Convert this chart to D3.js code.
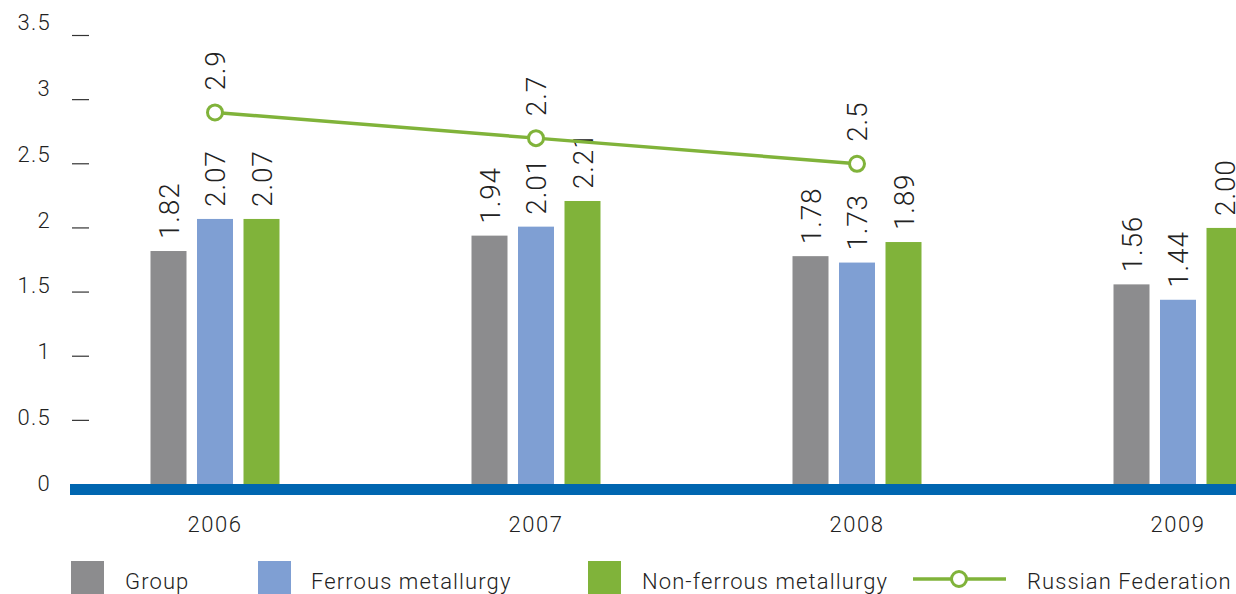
<!DOCTYPE html>
<html>
<head>
<meta charset="utf-8">
<script src="https://cdn.jsdelivr.net/npm/d3@7"></script>
<style>
  html, body { margin: 0; padding: 0; background: #fff; }
  svg { display: block; }
  text { font-family: Roboto, "Liberation Sans", sans-serif; font-weight: 300; fill: #222; }
</style>
</head>
<body>
<svg id="chart" width="1236" height="594"></svg>
<script>
// Chart data
const years = ["2006", "2007", "2008", "2009"];
const seriesNames = ["Group", "Ferrous metallurgy", "Non-ferrous metallurgy"];
const groupValues = [1.82, 1.94, 1.78, 1.56];
const ferrousValues = [2.07, 2.01, 1.73, 1.44];
const nonFerrousValues = [2.07, 2.21, 1.89, 2.00];
const russiaYears = ["2006", "2007", "2008"];
const russiaValues = [2.9, 2.7, 2.5];
const russiaName = "Russian Federation";
const yTicks = [0, 0.5, 1, 1.5, 2, 2.5, 3, 3.5];

const colors = {
  "Group": "#8c8c8e",
  "Ferrous metallurgy": "#7f9fd3",
  "Non-ferrous metallurgy": "#80b33a"
};
const lineColor = "#80b33a";
const axisColor = "#0066b0";

const svg = d3.select("#chart");
const W = 1236;

const y = d3.scaleLinear().domain([0, 3.5]).range([484.5, 35.5]);
// tick labels sit on their own, slightly wider-spaced ladder
const yLabel = d3.scaleLinear().domain([0, 3.5]).range([491, 30]);
const x = d3.scalePoint().domain(years).range([215, 1178]);
const xSub = d3.scaleBand().domain(seriesNames).range([-64.5, 64.5]).paddingInner(0.2258);

const seriesData = [groupValues, ferrousValues, nonFerrousValues];
const bars = [];
seriesNames.forEach((s, si) => {
  years.forEach((yr, i) => bars.push({ series: s, year: yr, value: seriesData[si][i] }));
});

// Y axis: short dashes with labels to the left
const yAxis = svg.append("g");
yAxis.selectAll("line")
  .data(yTicks.filter(t => t > 0))
  .join("line")
  .attr("x1", 72).attr("x2", 89)
  .attr("y1", d => y(d)).attr("y2", d => y(d))
  .attr("stroke", "#333").attr("stroke-width", 1.2);
yAxis.selectAll("text")
  .data(yTicks)
  .join("text")
  .attr("x", 51)
  .attr("y", d => yLabel(d))
  .attr("text-anchor", "end")
  .attr("font-size", 22)
  .attr("letter-spacing", 1.3)
  .text(d => d3.format("")(d));

// Bars
svg.append("g").selectAll("rect")
  .data(bars)
  .join("rect")
  .attr("x", d => x(d.year) + xSub(d.series))
  .attr("width", xSub.bandwidth())
  .attr("y", d => y(d.value))
  .attr("height", d => y(0) - y(d.value))
  .attr("fill", d => colors[d.series]);

// Bar value labels, rotated
svg.append("g").selectAll("text")
  .data(bars)
  .join("text")
  .attr("transform", d => `translate(${x(d.year) + xSub(d.series) + xSub.bandwidth() / 2},${y(d.value) - 12}) rotate(-90)`)
  .attr("dy", "0.36em")
  .attr("font-size", 28)
  .attr("letter-spacing", 0.8)
  .text(d => d3.format(".2f")(d.value));

// Baseline
svg.append("rect")
  .attr("x", 70).attr("y", y(0) - 0.5)
  .attr("width", W - 70).attr("height", 11)
  .attr("fill", axisColor);

// Year labels
svg.append("g").selectAll("text")
  .data(years)
  .join("text")
  .attr("x", d => x(d))
  .attr("y", 532)
  .attr("text-anchor", "middle")
  .attr("font-size", 22)
  .attr("letter-spacing", 1.5)
  .text(d => d);

// Russian Federation line
const pts = russiaYears.map((yr, i) => ({ year: yr, value: russiaValues[i] }));
svg.append("path")
  .datum(pts)
  .attr("fill", "none")
  .attr("stroke", lineColor)
  .attr("stroke-width", 3.5)
  .attr("d", d3.line().x(d => x(d.year)).y(d => y(d.value)));
svg.append("g").selectAll("circle")
  .data(pts)
  .join("circle")
  .attr("cx", d => x(d.year))
  .attr("cy", d => y(d.value))
  .attr("r", 7.5)
  .attr("fill", "#fff")
  .attr("stroke", lineColor)
  .attr("stroke-width", 3);
svg.append("g").selectAll("text")
  .data(pts)
  .join("text")
  .attr("transform", d => `translate(${x(d.year)},${y(d.value) - 22}) rotate(-90)`)
  .attr("dy", "0.36em")
  .attr("font-size", 28)
  .attr("letter-spacing", 0.8)
  .text(d => d3.format(".1f")(d.value));

// Legend
const legend = svg.append("g");
const legendSwatchX = [71, 258, 588];
const legendTextX = [125, 311, 642];
seriesNames.forEach((s, i) => {
  legend.append("rect")
    .attr("x", legendSwatchX[i]).attr("y", 561)
    .attr("width", 33).attr("height", 33)
    .attr("fill", colors[s]);
  legend.append("text")
    .attr("x", legendTextX[i]).attr("y", 589)
    .attr("font-size", 22)
    .attr("letter-spacing", 1.1)
    .text(s);
});
legend.append("line")
  .attr("x1", 913).attr("x2", 1006)
  .attr("y1", 579).attr("y2", 579)
  .attr("stroke", lineColor).attr("stroke-width", 3.5);
legend.append("circle")
  .attr("cx", 959).attr("cy", 579).attr("r", 7.5)
  .attr("fill", "#fff").attr("stroke", lineColor).attr("stroke-width", 3);
legend.append("text")
  .attr("x", 1027).attr("y", 589)
  .attr("font-size", 22)
  .attr("letter-spacing", 1.1)
  .text(russiaName);
</script>
</body>
</html>
